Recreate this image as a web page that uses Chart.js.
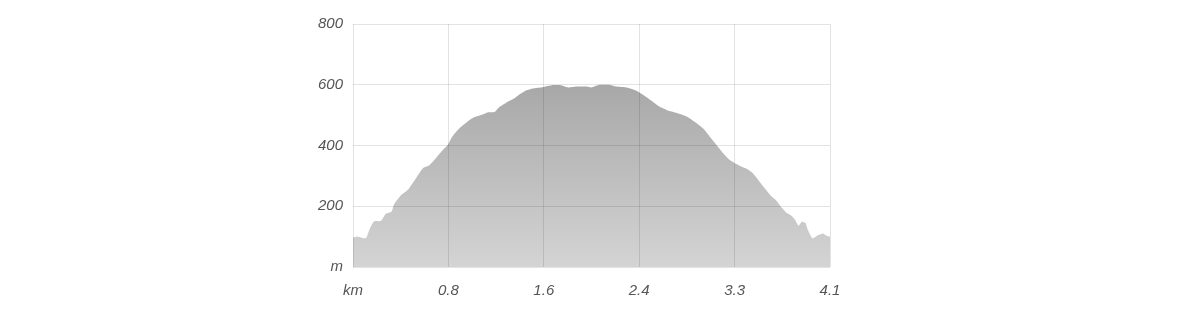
<!DOCTYPE html>
<html>
<head>
<meta charset="utf-8">
<script src="https://cdn.jsdelivr.net/npm/chart.js@4"></script>
<style>
  html, body { margin: 0; padding: 0; background: #fff; }
  #wrap { width: 1200px; height: 318px; }
</style>
</head>
<body>
<div id="wrap"><canvas id="profile" width="1200" height="318"></canvas></div>
<script>
// distance along route (km) and elevation (m)
var distKm = [0.00, 0.04, 0.11, 0.14, 0.18, 0.24, 0.28, 0.33, 0.35, 0.41, 0.47, 0.53, 0.60, 0.65, 0.71, 0.77, 0.81, 0.85, 0.91, 0.97,
  1.02, 1.10, 1.15, 1.21, 1.25, 1.31, 1.37, 1.42, 1.48, 1.54, 1.62, 1.71, 1.77, 1.84, 1.91, 2.00, 2.04, 2.10, 2.20, 2.25,
  2.34, 2.42, 2.48, 2.55, 2.62, 2.70, 2.77, 2.85, 2.90, 2.95, 3.00, 3.05, 3.11, 3.17, 3.22, 3.28, 3.32, 3.37, 3.42, 3.46, 3.52,
  3.58, 3.62, 3.67, 3.71, 3.75, 3.78, 3.81, 3.84, 3.87, 3.89, 3.93, 3.97, 4.02, 4.05, 4.08];
var elevM = [97, 100, 95, 123, 150, 152, 175, 183, 205, 236, 254, 287, 326, 334, 359, 386, 402, 430, 457, 476,
  490, 501, 509, 510, 526, 541, 553, 567, 581, 588, 592, 599, 599, 591, 594, 594, 591, 599, 599, 594,
  591, 581, 567, 548, 528, 514, 507, 496, 484, 470, 454, 430, 402, 373, 353, 339, 331, 323, 309, 290, 260,
  232, 219, 194, 178, 169, 156, 136, 149, 145, 123, 95, 103, 110, 103, 100];
var xTicks = [0, 0.816, 1.632, 2.448, 3.264, 4.08];
var yTicks = [0, 200, 400, 600, 800];

var points = distKm.map(function (d, i) { return { x: d, y: elevM[i] }; });
var tickFont = { family: 'Liberation Sans, Arial, sans-serif', size: 15, style: 'italic' };

var ctx = document.getElementById('profile').getContext('2d');
var chart = new Chart(ctx, {
  type: 'line',
  data: {
    datasets: [{
      data: points,
      fill: 'origin',
      borderWidth: 0,
      pointRadius: 0,
      tension: 0.2,
      backgroundColor: function (c) {
        var area = c.chart.chartArea;
        if (!area) return 'rgba(0,0,0,0.3)';
        var g = c.chart.ctx.createLinearGradient(0, area.top, 0, area.bottom);
        g.addColorStop(0, 'rgba(0,0,0,0.40)');
        g.addColorStop(1, 'rgba(0,0,0,0.17)');
        return g;
      }
    }]
  },
  options: {
    responsive: false,
    animation: false,
    layout: { padding: { left: 300, right: 370, top: 24, bottom: 0 } },
    plugins: { legend: { display: false }, tooltip: { enabled: false } },
    scales: {
      x: {
        type: 'linear',
        min: 0,
        max: 4.08,
        afterBuildTicks: function (s) { s.ticks = xTicks.map(function (v) { return { value: v }; }); },
        afterFit: function (s) { s.height = 51; },
        border: { display: false },
        grid: { color: 'rgba(0,0,0,0.11)', drawTicks: false },
        ticks: {
          padding: 15,
          color: '#555',
          font: tickFont,
          maxRotation: 0,
          callback: function (v) { return v === 0 ? 'km' : v.toFixed(1); }
        }
      },
      y: {
        min: 0,
        max: 800,
        afterBuildTicks: function (s) { s.ticks = yTicks.map(function (v) { return { value: v }; }); },
        afterFit: function (s) { s.width = 53; },
        border: { display: false },
        grid: { color: 'rgba(0,0,0,0.11)', drawTicks: false },
        ticks: {
          padding: 10,
          color: '#555',
          font: tickFont,
          callback: function (v) { return v === 0 ? 'm' : v; }
        }
      }
    }
  }
});
</script>
</body>
</html>
